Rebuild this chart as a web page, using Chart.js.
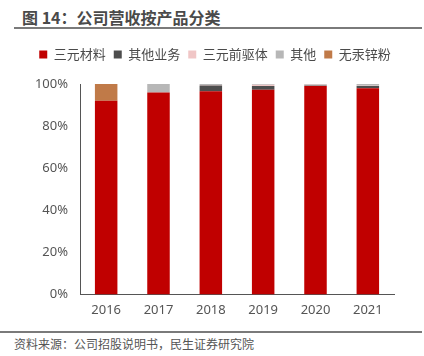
<!DOCTYPE html>
<html><head><meta charset="utf-8">
<script src="https://cdn.jsdelivr.net/npm/chart.js@4/dist/chart.umd.min.js"></script>
<style>
body{margin:0;width:424px;height:356px;background:#fff;position:relative;overflow:hidden;font-family:"Noto Sans CJK SC","Noto Sans",sans-serif;}
#title{position:absolute;left:22px;top:5px;font-size:16px;font-weight:bold;color:#4a4a4a;letter-spacing:0px;}
#tline{position:absolute;left:14px;top:27px;width:408px;height:2px;background:#7a7a7a;}
#bline{position:absolute;left:0px;top:331px;width:422px;height:2px;background:#7a7a7a;}
#src{position:absolute;left:14px;top:335px;font-size:12px;color:#555;}
#wrap{position:absolute;left:0;top:40px;width:424px;height:286px;}
</style></head><body>
<div id="title">图 14：公司营收按产品分类</div>
<div id="tline"></div>
<div id="wrap"><canvas id="c"></canvas></div>
<div id="bline"></div>
<div id="src">资料来源：公司招股说明书，民生证券研究院</div>
<script>
const years = ["2016","2017","2018","2019","2020","2021"];
const ternaryMaterials = [92.0, 96.0, 96.5, 97.3, 99.0, 98.0];
const otherBusiness    = [0, 0, 2.8, 1.8, 0.3, 1.0];
const precursors       = [0, 0, 0.2, 0.6, 0.3, 0.2];
const others           = [0, 4.0, 0.5, 0.3, 0.4, 0.8];
const zincPowder       = [8.0, 0, 0, 0, 0, 0];
const seriesNames = ["三元材料","其他业务","三元前驱体","其他","无汞锌粉"];
const colors = ["#C00000","#4D4D4D","#F0C6C6","#B7B7B7","#C07A48"];
const values = [ternaryMaterials, otherBusiness, precursors, others, zincPowder];

const legendGap = {
  id:'legendGap',
  afterInit(chart){
    const lg = chart.legend; if(!lg) return;
    const f = lg.fit;
    lg.fit = function(){ f.call(this); this.height += 13; };
    const d = lg.draw;
    lg.draw = function(){ const ctx=this.ctx; ctx.save(); ctx.translate(18,0); d.apply(this,arguments); ctx.restore(); };
  }
};

new Chart(document.getElementById('c'), {
  type: 'bar',
  data: {
    labels: years,
    datasets: seriesNames.map((n,i)=>({label:n,data:values[i],backgroundColor:colors[i],borderWidth:0,barPercentage:0.86,categoryPercentage:0.5}))
  },
  options: {
    responsive:true, maintainAspectRatio:false, animation:false,
    layout:{padding:{left:0,right:30,top:0,bottom:0}},
    plugins:{
      tooltip:{enabled:false},
      legend:{position:'top',labels:{boxWidth:8,boxHeight:8,padding:8,color:'#4a4a4a',font:{size:13,family:'"Noto Sans CJK SC"'}}}
    },
    scales:{
      x:{stacked:true,grid:{display:false,drawTicks:false},border:{color:'#555',width:1},
         ticks:{color:'#555',padding:8,font:{size:13,family:'"Noto Sans","Noto Sans CJK SC"'}}},
      y:{stacked:true,min:0,max:100,grid:{display:false,drawTicks:false},border:{color:'#555',width:1},
         afterFit:(s)=>{s.width=80;},
         ticks:{stepSize:20,color:'#555',padding:12,callback:v=>v+'%',font:{size:13,family:'"Noto Sans","Noto Sans CJK SC"'}}}
    }
  },
  plugins:[legendGap]
});
</script>
</body></html>
